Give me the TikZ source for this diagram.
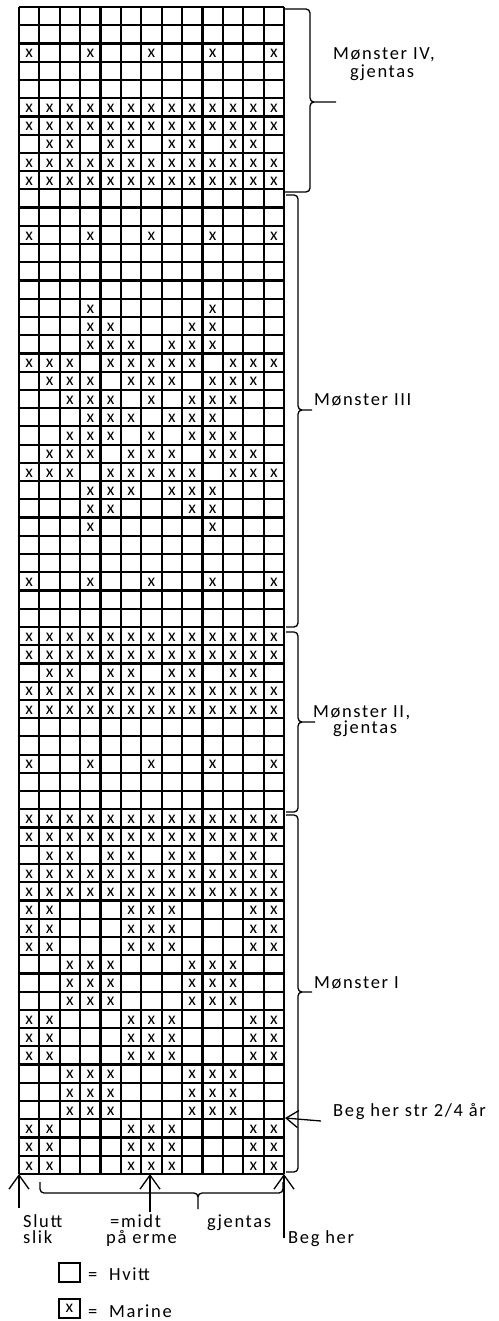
\documentclass[tikz,border=0pt]{standalone}
\usepackage{fontspec}
\setmainfont{Carlito}
\newfontfamily\lblfont{Carlito}[LetterSpace=9]
\usetikzlibrary{arrows.meta}

\begin{document}
\begin{tikzpicture}[
    x=1pt, y=-1pt,
    gridline/.style={line width=2.2pt, line cap=square},
    cellx/.style={font=\fontsize{17.5}{17}\selectfont, inner sep=0pt},
    lbl/.style={font=\lblfont\fontsize{18.5}{17}\selectfont, inner sep=0pt, anchor=base west},
    brace/.style={line width=1.3pt, rounded corners=4pt},
    uparr/.style={-{Straight Barb[length=14pt,width=20pt,line width=1.3pt]}, line width=1.3pt},
    legbox/.style={draw, line width=2.2pt, minimum width=21pt, minimum height=19pt, inner sep=0pt}
  ]
  \def\cw{20.385}
  \def\rh{18.234}
  \useasboundingbox (0,0) rectangle (498,1321);

  % marked stitches (row / columns)
  \foreach \r/\cols in {
      3/{1,4,7,10,13}, 6/{1,...,13}, 7/{1,...,13}, 8/{2,3,5,6,8,9,11,12},
      9/{1,...,13}, 10/{1,...,13},
      13/{1,4,7,10,13},
      17/{4,10}, 18/{4,5,9,10}, 19/{4,5,6,8,9,10},
      20/{1,2,3,5,6,7,8,9,11,12,13}, 21/{2,3,4,6,7,8,10,11,12},
      22/{3,4,5,7,9,10,11}, 23/{4,5,6,8,9,10}, 24/{3,4,5,7,9,10,11},
      25/{2,3,4,6,7,8,10,11,12}, 26/{1,2,3,5,6,7,8,9,11,12,13},
      27/{4,5,6,8,9,10}, 28/{4,5,9,10}, 29/{4,10},
      32/{1,4,7,10,13},
      35/{1,...,13}, 36/{1,...,13}, 37/{2,3,5,6,8,9,11,12},
      38/{1,...,13}, 39/{1,...,13},
      42/{1,4,7,10,13},
      45/{1,...,13}, 46/{1,...,13}, 47/{2,3,5,6,8,9,11,12},
      48/{1,...,13}, 49/{1,...,13},
      50/{1,2,6,7,8,12,13}, 51/{1,2,6,7,8,12,13}, 52/{1,2,6,7,8,12,13},
      53/{3,4,5,9,10,11}, 54/{3,4,5,9,10,11}, 55/{3,4,5,9,10,11},
      56/{1,2,6,7,8,12,13}, 57/{1,2,6,7,8,12,13}, 58/{1,2,6,7,8,12,13},
      59/{3,4,5,9,10,11}, 60/{3,4,5,9,10,11}, 61/{3,4,5,9,10,11},
      62/{1,2,6,7,8,12,13}, 63/{1,2,6,7,8,12,13}, 64/{1,2,6,7,8,12,13}}
    \foreach \c in \cols
      \node[cellx] (x-\r-\c) at ({19+(\c-0.5)*\cw},{7+(\r-0.5)*\rh+1}) {x};

  % grid
  \foreach \i in {0,...,13}
    \draw[gridline] ({19+\i*\cw},7) -- ({19+\i*\cw},1174);
  \foreach \j in {0,...,64}
    \draw[gridline] (19,{7+\j*\rh}) -- (284,{7+\j*\rh});

  % braces
  \draw[brace] (284,9) -- (310,9) -- (310,102) -- (336,102)
               (284,192) -- (310,192) -- (310,102) -- (336,102);
  \draw[brace] (286,195) -- (298,195) -- (298,410) -- (312,410)
               (286,627) -- (298,627) -- (298,410) -- (312,410);
  \draw[brace] (286,632) -- (298,632) -- (298,722) -- (315,722)
               (286,812) -- (298,812) -- (298,722) -- (315,722);
  \draw[brace] (286,815) -- (298,815) -- (298,992) -- (312,992)
               (286,1172) -- (298,1172) -- (298,992) -- (312,992);
  \draw[brace] (40,1182) -- (40,1193) -- (198,1193) -- (198,1209)
               (283,1182) -- (283,1193) -- (198,1193) -- (198,1209);

  \node[lbl] (m4a) at (333,60) {Mønster IV,};
  \node[lbl] (m4b) at (350,78) {gjentas};
  \node[lbl] (m3) at (314,405) {Mønster III};
  \node[lbl] (m2a) at (313,717) {Mønster II,};
  \node[lbl] (m2b) at (333,733) {gjentas};
  \node[lbl] (m1) at (314,988) {Mønster I};
  \node[lbl] (begstr) at (333,1116) {Beg her str 2/4 år};

  % arrows
  \coordinate (gridBL) at (19,1174);
  \coordinate (gridMid) at (150,1174);
  \coordinate (gridBR) at (284,1174);
  \coordinate (sluttfoot) at (19,1208);
  \coordinate (midtfoot) at (150,1212);
  \coordinate (begfoot) at (284,1238);
  \coordinate (strtail) at (321,1121);
  \coordinate (strtip) at (285,1118);
  \draw[uparr] (sluttfoot) -- (gridBL);
  \draw[uparr] (midtfoot) -- (gridMid);
  \draw[uparr] (begfoot) -- (gridBR);
  \draw[-{Straight Barb[length=12pt,width=17pt,line width=1.3pt]}, line width=1.3pt] (strtail) -- (strtip);

  \node[lbl] (slutt) at (23,1227) {Slutt};
  \node[lbl] (slik) at (23,1243) {slik};
  \node[lbl] (midt) at (110,1227) {=midt};
  \node[lbl] (erme) at (106,1243) {på erme};
  \node[lbl] (gjen) at (207,1227) {gjentas};
  \node[lbl] (beg) at (288,1243) {Beg her};

  % legend
  \node[legbox] (hvittbox) at (69.5,1272.5) {};
  \node[lbl] (hvitt) at (88,1280) {= \ Hvitt};
  \node[legbox, cellx] (marinebox) at (69.5,1308.5) {x};
  \node[lbl] (marine) at (88,1317) {= \ Marine};
\end{tikzpicture}
\end{document}
